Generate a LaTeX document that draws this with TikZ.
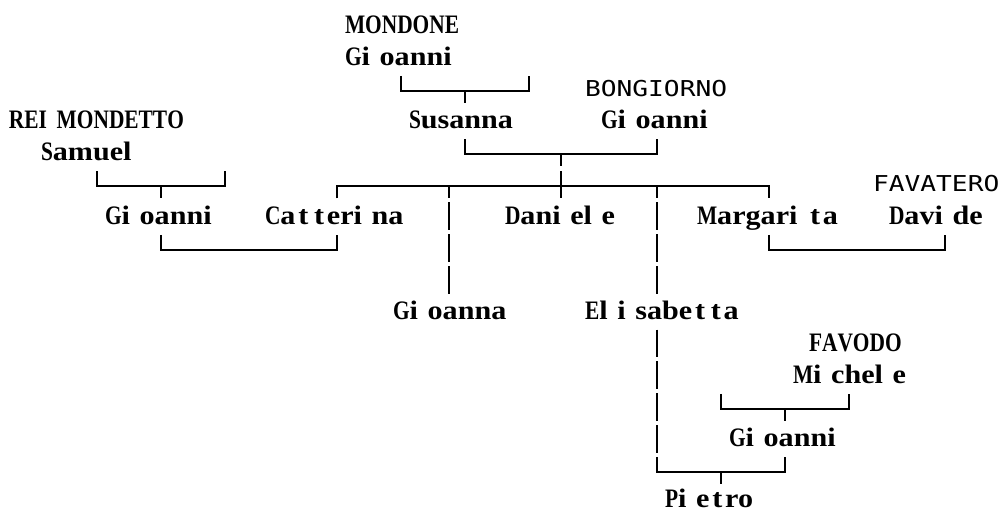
\documentclass[tikz,border=0pt]{standalone}
\usepackage{fontspec}
\usepackage{graphicx}
\newfontfamily\nmfont[FakeStretch=1.13]{Liberation Serif Bold}
\newfontfamily\lbfont[FakeStretch=1.2]{DejaVu Sans Mono}
\newlength\narrow \setlength\narrow{13.5pt}
\def\nmchar#1{%
  \ifnum\uccode`#1=`#1\relax
    \ifx I#1\makebox[\narrow][l]{\scalebox{0.71}[1]{I}}\else\scalebox{0.71}[1]{#1}\fi
  \else
    \ifx i#1\makebox[\narrow][l]{#1}\else
    \ifx l#1\makebox[\narrow][l]{#1}\else
    \ifx t#1\makebox[11.8pt][c]{#1}\else
    #1\fi\fi\fi
  \fi}
\makeatletter
\def\cells#1{\cells@a#1\relax}
\def\cells@a#1{\ifx\relax#1\else\nmchar{#1}\expandafter\cells@a\fi}
\makeatother
\tikzset{
  person/.style={anchor=base west, inner sep=0pt, outer sep=0pt,
    font=\nmfont\fontsize{20pt}{22pt}\selectfont},
  surname/.style={anchor=base west, inner sep=0pt, outer sep=0pt,
    font=\lbfont\fontsize{16.4pt}{18pt}\selectfont},
  link/.style={line width=1.4pt, line join=miter, line cap=butt, black},
  vbar/.style={link, dash pattern=on 20.75pt off 3.1pt},
}
\begin{document}
\begin{tikzpicture}[x=12pt, y=-23.85pt]
\useasboundingbox (-1.0625,-0.785) rectangle (61.625,15.353);
% people
\node[person] (mondone) at (20.5,0.27) {\cells{MONDONE}};
\node[person] (gioM) at (20.5,1.27) {\cells{Gioanni}};
\node[surname] (bong) at (35.5,2.25) {BONGIORNO};
\node[person] (rei) at (-0.5,3.27) {\cells{REIMONDETTO}};
\node[person] (sus) at (24.5,3.27) {\cells{Susanna}};
\node[person] (gioB) at (36.5,3.27) {\cells{Gioanni}};
\node[person] (sam) at (1.5,4.27) {\cells{Samuel}};
\node[surname] (favat) at (53.5,5.25) {FAVATERO};
\node[person] (gioR) at (5.5,6.27) {\cells{Gioanni}};
\node[person] (cat) at (15.5,6.27) {\cells{Catterina}};
\node[person] (dan) at (30.5,6.27) {\cells{Daniele}};
\node[person] (mar) at (42.5,6.27) {\cells{Margarita}};
\node[person] (dav) at (54.5,6.27) {\cells{Davide}};
\node[person] (gna) at (23.5,9.27) {\cells{Gioanna}};
\node[person] (eli) at (35.5,9.27) {\cells{Elisabetta}};
\node[person] (favo) at (49.5,10.27) {\cells{FAVODO}};
\node[person] (mic) at (48.5,11.27) {\cells{Michele}};
\node[person] (gioF) at (44.5,13.27) {\cells{Gioanni}};
\node[person] (pie) at (40.5,15.17) {\cells{Pietro}};
% junction coordinates
\coordinate (m1) at (24,1.6);  \coordinate (m2) at (32,1.6);  \coordinate (m3) at (28,2.07);
\coordinate (s1) at (28,3.6);  \coordinate (s2) at (40,3.6);  \coordinate (s3) at (34,4.07);
\coordinate (r1) at (5,4.6);   \coordinate (r2) at (13,4.6);  \coordinate (r3) at (9,5.07);
\coordinate (k1) at (20,5.07); \coordinate (k2) at (47,5.07);
\coordinate (k27) at (27,5.07); \coordinate (k34) at (34,4.6); \coordinate (k40) at (40,5.07);
\coordinate (c1) at (9,6.6);   \coordinate (c2) at (20,6.6);
\coordinate (d1) at (47,6.6);  \coordinate (d2) at (58,6.6);
\coordinate (e1) at (40,9.58);
\coordinate (f1) at (44,11.6); \coordinate (f2) at (52,11.6); \coordinate (f3) at (48,12.07);
\coordinate (p1) at (40,13.58); \coordinate (p2) at (48,13.6); \coordinate (p3) at (44,14.07);
% MONDONE Gioanni -> Susanna
\draw[link] (m1) |- (m2 |- m3) -- (m2);
\draw[link] (m3) -- ++(0,0.38);
% Susanna + BONGIORNO Gioanni -> children
\draw[link] (s1) |- (s2 |- s3) -- (s2);
\draw[link] (s3) -- ++(0,0.38);
% REIMONDETTO Samuel -> Gioanni
\draw[link] (r1) |- (r2 |- r3) -- (r2);
\draw[link] (r3) -- ++(0,0.38);
% sibling line
\draw[link] (k1) ++(0,0.38) -- (k1) -- (k2) -- ++(0,0.38);
\draw[link] (k34) -- ++(0,0.85);
\draw[vbar, dash phase=11.69pt] (k27) -- (27,8.45);
\draw[vbar, dash phase=11.69pt] (k40) -- (40,8.45);
% Gioanni + Catterina
\draw[link] (c1) |- (c2 |- 0,7.07) -- (c2);
% Margarita + Davide
\draw[link] (d1) |- (d2 |- 0,7.07) -- (d2);
% Elisabetta line down
\draw[vbar] (e1) -- (40,13.45);
% FAVODO Michele -> Gioanni
\draw[link] (f1) |- (f2 |- f3) -- (f2);
\draw[link] (f3) -- ++(0,0.38);
% Elisabetta + Gioanni -> Pietro
\draw[link] (p1) |- (p2 |- p3) -- (p2);
\draw[link] (p3) -- ++(0,0.38);
\end{tikzpicture}
\end{document}
